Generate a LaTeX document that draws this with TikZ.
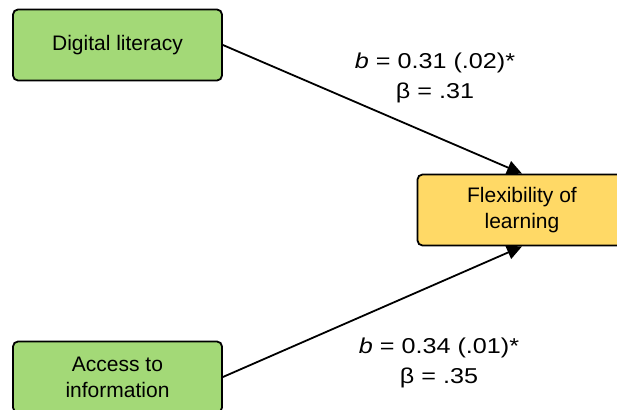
\documentclass[tikz,border=0pt]{standalone}
\usepackage{fontspec}
\setmainfont{Liberation Sans}
\usetikzlibrary{arrows.meta}
\definecolor{boxgreen}{HTML}{A3D977}
\definecolor{boxyellow}{HTML}{FFD966}
\begin{document}
\begin{tikzpicture}[x=1pt,y=-1pt,
  varbox/.style={draw=black, line width=1.8pt, rounded corners=5pt,
    minimum width=209pt, minimum height=71pt, align=center,
    font=\fontsize{21}{26}\selectfont, inner sep=0pt},
  pathlabel/.style={align=center, font=\fontsize{21.5}{30}\selectfont,
    inner sep=0pt, transform shape, xscale=1.17},
  effect/.style={line width=1.8pt, -{Triangle[length=15pt,width=14pt]}}]
  \useasboundingbox (0,0) rectangle (617,409);
  \node[varbox, fill=boxgreen] (dl) at (117.5,45) {Digital literacy};
  \node[varbox, fill=boxgreen] (ai) at (117.5,377) {Access to\\information};
  \node[varbox, fill=boxyellow] (fl) at (522,210) {Flexibility of\\learning};
  \draw[effect] (dl.east) -- (fl.north);
  \draw[effect] (ai.east) -- (fl.south);
  \node[pathlabel] (l1) at (435,78) {\textit{b} = 0.31 (.02)*\\β = .31};
  \node[pathlabel] (l2) at (439,363) {\textit{b} = 0.34 (.01)*\\β = .35};
\end{tikzpicture}
\end{document}
